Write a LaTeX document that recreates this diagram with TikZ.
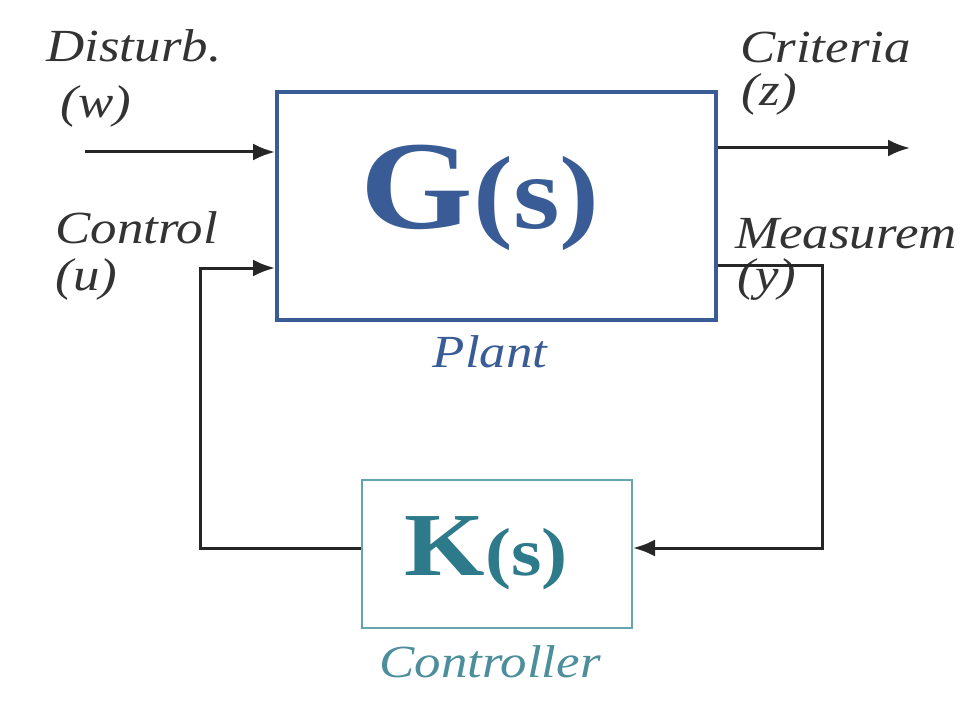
\documentclass[tikz,border=0pt]{standalone}
\usepackage{fontspec}
\setmainfont[FakeStretch=1.15]{Liberation Serif}
\usetikzlibrary{arrows.meta}
\definecolor{plantblue}{RGB}{58,92,150}
\definecolor{ctrlteal}{RGB}{44,122,138}
\definecolor{ctrledge}{RGB}{100,165,176}

\begin{document}
\begin{tikzpicture}[>={Latex[length=11pt,width=8.5pt]},x=0.5pt,y=-0.5pt,
  sig/.style={font=\fontsize{23}{27}\selectfont\itshape,text=black!80,inner sep=0pt,anchor=base west},
  wire/.style={line width=1.5pt,black!85},
  blocklbl/.style={font=\fontsize{23}{27}\selectfont\itshape,inner sep=0pt,anchor=base}]
  \useasboundingbox (0,0) rectangle (977,700);
  % blocks
  \node[draw=plantblue,line width=2pt,minimum width=219.5pt,minimum height=114pt,inner sep=0pt] (plant) at (496.5,206) {};
  \node[draw=ctrledge,line width=1pt,minimum width=135pt,minimum height=74pt,inner sep=0pt] (ctrl) at (497,554) {};
  \node[anchor=base,inner sep=0pt,text=plantblue,font=\bfseries] (G) at (480,228)
    {\fontsize{63}{70}\selectfont G\fontsize{52}{60}\selectfont(s)};
  \node[anchor=base,inner sep=0pt,text=ctrlteal,font=\bfseries] (K) at (486,575)
    {\fontsize{45}{50}\selectfont K\fontsize{34}{40}\selectfont(s)};
  \node[blocklbl,text=plantblue] (plantlbl) at (490,367) {Plant};
  \node[blocklbl,text=ctrlteal!85] (ctrllbl) at (490,677) {Controller};
  % signal labels
  \node[sig] (dist) at (46,62) {Disturb.};
  \node[sig] (w) at (60,118) {(w)};
  \node[sig] (cont) at (55,243) {Control};
  \node[sig] (u) at (55,290) {(u)};
  \node[sig] (crit) at (740,63) {Criteria};
  \node[sig] (z) at (741,106) {(z)};
  \node[sig] (meas) at (735,248) {Measurem};
  \node[sig] (y) at (737,290) {(y)};
  % connectors
  \coordinate (win) at (85,152);
  \coordinate (zout) at (910,148);
  \coordinate (ymeas) at (822,265);
  \coordinate (fbk) at (822,548);
  \coordinate (uin) at (200,268);
  \coordinate (kout) at (200,548);
  \draw[wire,->] (win) -- (win -| plant.west);
  \draw[wire,->] (zout -| plant.east) -- (zout);
  \draw[wire,->] (ymeas -| plant.east) -- (ymeas) -- (fbk) -- (fbk -| ctrl.east);
  \draw[wire,->] (kout -| ctrl.west) -- (kout) -- (uin) -- (uin -| plant.west);
\end{tikzpicture}
\end{document}
